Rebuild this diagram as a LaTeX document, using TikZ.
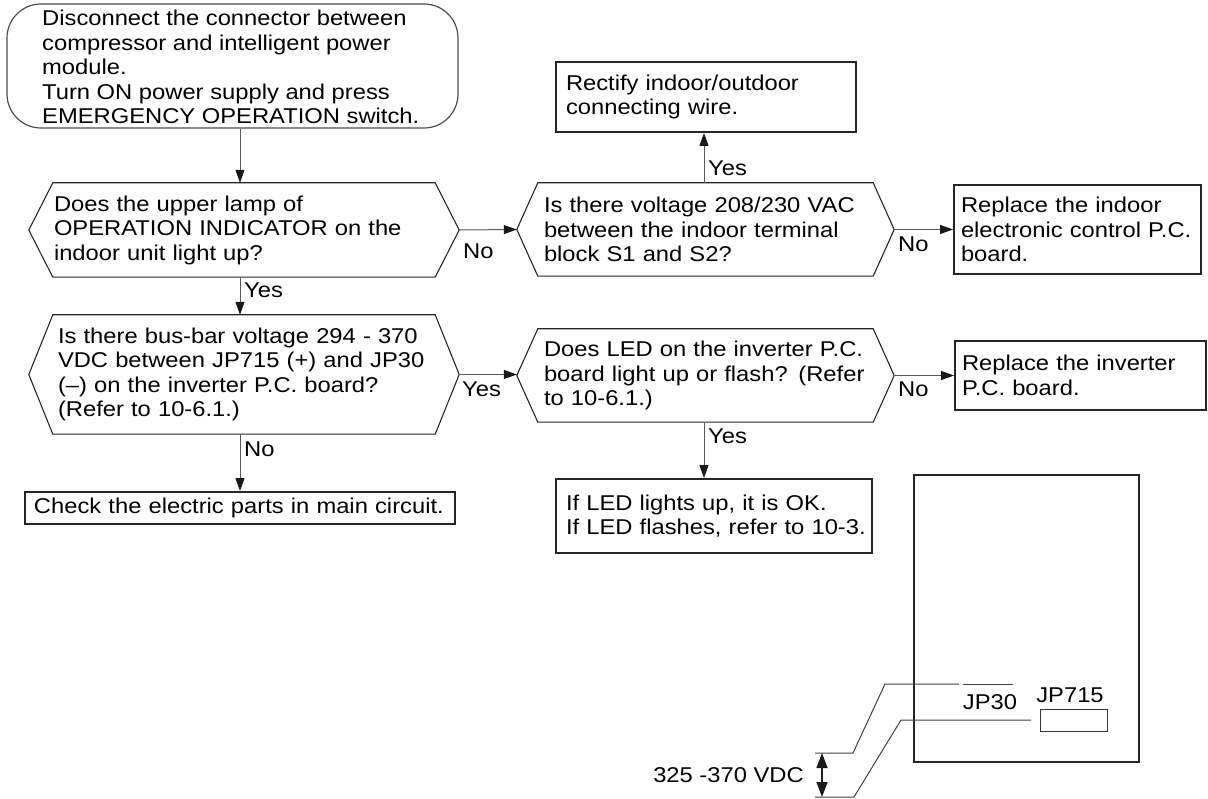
\documentclass[tikz,border=0pt]{standalone}
\usepackage{fontspec}
\setmainfont{Liberation Sans}[FakeStretch=1.11]
\usetikzlibrary{arrows.meta}
\newcommand\fs{\fontsize{21.4}{24.5}\selectfont}
\newcommand\hexdraw[2]{%
  \draw[hexline] (#1.north west) -- (#1.north east) -- ([xshift=#2pt]#1.east) -- (#1.south east) -- (#1.south west) -- ([xshift=-#2pt]#1.west) -- cycle;
  \coordinate (#1-r) at ([xshift=#2pt]#1.east);
  \coordinate (#1-l) at ([xshift=-#2pt]#1.west);}
\tikzset{
  every node/.style={font=\fs, text=black},
  txt/.style={inner sep=0pt, align=left},
  hexn/.style={draw=none, inner ysep=0pt, align=left},
  hexline/.style={draw=black!85, line width=1.1pt},
  startbox/.style={draw=black!70, line width=1.2pt, rounded corners=34pt},
  boxn/.style={draw=black!85, line width=1.9pt, inner ysep=0pt, align=left},
  conn/.style={draw=black!65, line width=1pt, -{Triangle[length=13pt,width=9pt,color=black!90]}},
  lbl/.style={inner sep=0pt, anchor=west},
  wire/.style={draw=black!75, line width=1pt},
}
\begin{document}
\begin{tikzpicture}[x=1pt,y=-1pt]
\useasboundingbox (0,0) rectangle (1208,799);
\coordinate (colA) at (240,0);
\coordinate (colB) at (704,0);
% start
\node[startbox, minimum width=451pt, minimum height=124pt] (s) at (232.5,66) {};
\node[txt, anchor=west] (st) at (42,67) {Disconnect the connector between\\compressor and intelligent power\\module.\\Turn ON power supply and press\\EMERGENCY OPERATION switch.};
% decisions
\node[hexn, minimum width=382pt, minimum height=94pt, text width=380pt, inner xsep=1pt] (d1) at (244,230)
  {Does the upper lamp of\\OPERATION INDICATOR on the\\indoor unit light up?};
\hexdraw{d1}{24}
\node[hexn, minimum width=335pt, minimum height=93pt, text width=323pt, inner xsep=6pt] (d2) at (705.5,229.5)
  {Is there voltage 208/230 VAC\\between the indoor terminal\\block S1 and S2?};
\hexdraw{d2}{21}
\node[hexn, minimum width=382pt, minimum height=119pt, text width=372pt, inner xsep=5pt] (d3) at (244,374.5)
  {Is there bus-bar voltage 294 - 370\\VDC between JP715 (+) and JP30\\(--) on the inverter P.C. board?\\(Refer to 10-6.1.)};
\hexdraw{d3}{24}
\node[hexn, minimum width=335pt, minimum height=93pt, text width=323pt, inner xsep=6pt] (d4) at (705.5,375.5)
  {Does LED on the inverter P.C.\\board light up or flash? (Refer\\to 10-6.1.)};
\hexdraw{d4}{21}
% boxes
\node[boxn, minimum width=300pt, minimum height=70pt, text width=280pt, inner xsep=10pt] (rect) at (706,97)
  {Rectify indoor/outdoor\\connecting wire.};
\node[boxn, minimum width=247pt, minimum height=89pt, text width=233pt, inner xsep=7pt] (r1) at (1077.5,229.5)
  {Replace the indoor\\\mbox{electronic control P.C.}\\board.};
\node[boxn, minimum width=251pt, minimum height=69pt, text width=237pt, inner xsep=7pt] (r2) at (1080.5,375.5)
  {Replace the inverter\\P.C. board.};
\node[boxn, minimum width=316pt, minimum height=74pt, text width=296pt, inner xsep=10pt] (led) at (714,516)
  {If LED lights up, it is OK.\\\mbox{If LED flashes, refer to 10-3.}};
\node[boxn, minimum width=430pt, minimum height=32pt, text width=412pt, inner xsep=9pt] (chk) at (240,508)
  {\mbox{Check the electric parts in main circuit.}};
% connectors
\draw[conn] (s.south -| colA) -- (d1.north -| colA);
\draw[conn] (d1-r) -- (d2-l);
\node[lbl] (l1) at (463,251) {No};
\draw[conn] (d2.north -| colB) -- (rect.south -| colB);
\node[lbl] (l2) at (708,168) {Yes};
\draw[conn] (d2-r) -- (r1.west |- d2-r);
\node[lbl] (l3) at (898,244) {No};
\draw[conn] (d1.south -| colA) -- (d3.north -| colA);
\node[lbl] (l4) at (244,290) {Yes};
\draw[conn] (d3-r) -- (d4-l |- d3-r);
\node[lbl] (l5) at (462,389) {Yes};
\draw[conn] (d4-r) -- (r2.west |- d4-r);
\node[lbl] (l6) at (898,389) {No};
\draw[conn] (d4.south -| colB) -- (led.north -| colB);
\node[lbl] (l7) at (708,436) {Yes};
\draw[conn] (d3.south -| colA) -- (chk.north -| colA);
\node[lbl] (l8) at (244,449) {No};
% board
\draw[black!85, line width=2pt] (914,475) rectangle (1139,762);
\node[inner sep=0pt] (jp30) at (990,702) {JP30};
\draw[wire] (963,684) -- (1013,684);
\node[inner sep=0pt] (jp715) at (1070,695) {JP715};
\draw[black!80, line width=1pt] (1040,709) rectangle (1107,731);
\coordinate (w1a) at (959,684);
\coordinate (w1b) at (815,753);
\coordinate (w2a) at (1031,720);
\coordinate (w2b) at (815,797);
\draw[wire] (w1a) -- (885,684) -- (853,753) -- (w1b);
\draw[wire] (w2a) -- (901,720) -- (854,797) -- (w2b);
\draw[black!90, line width=1.2pt, {Triangle[length=15pt,width=11pt]}-{Triangle[length=15pt,width=11pt]}] (822,753) -- (822,797);
\node[inner sep=0pt, anchor=east] (vdc) at (804,775) {325 -370 VDC};
\end{tikzpicture}
\end{document}
